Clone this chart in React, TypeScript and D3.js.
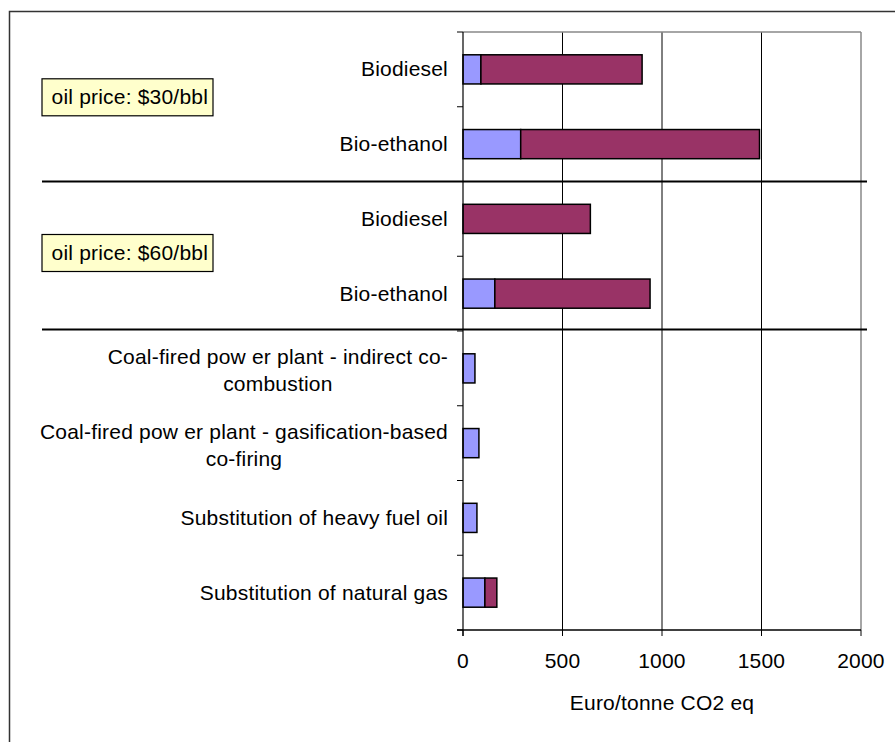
import React from "react";
import * as d3 from "d3";

// Category labels (wrapped lines), top to bottom
const categoryLines: string[][] = [
  ["Biodiesel"],
  ["Bio-ethanol"],
  ["Biodiesel"],
  ["Bio-ethanol"],
  ["Coal-fired pow er plant - indirect co-", "combustion"],
  ["Coal-fired pow er plant - gasification-based", "co-firing"],
  ["Substitution of heavy fuel oil"],
  ["Substitution of natural gas"],
];

// Stacked series values (Euro/tonne CO2 eq)
const seriesLower = [90, 290, 0, 160, 60, 80, 70, 110];
const seriesUpper = [810, 1200, 640, 780, 0, 0, 0, 60];
const seriesColors = ["#9999FF", "#993366"];

const xTicks = [0, 500, 1000, 1500, 2000];
const xTitle = "Euro/tonne CO2 eq";

const priceNotes = ["oil price: $30/bbl", "oil price: $60/bbl"];
// Group boundaries (category index after which a separator is drawn)
const groupBreaks = [2, 4];

const W = 895;
const H = 742;
const plot = { left: 463, right: 861, top: 32, bottom: 630 };
const FONT = "'Liberation Sans', Arial, Helvetica, sans-serif";
const FS = 21;
const LS = 0.2;

function textWidth(s: string): number {
  const c = document.createElement("canvas").getContext("2d");
  if (!c) return s.length * FS * 0.5;
  c.font = `${FS}px ${FONT}`;
  return c.measureText(s).width + LS * s.length;
}

export default function App() {
  const idx = categoryLines.map((_, i) => i);
  const x = d3.scaleLinear().domain([0, 2000]).range([plot.left, plot.right]);
  const y = d3
    .scaleBand<number>()
    .domain(idx)
    .range([plot.top, plot.bottom])
    .padding(0);
  const step = y.step();
  const barH = step * 0.39;

  const rows = idx.map((i) => ({ i, a: seriesLower[i], b: seriesUpper[i] }));
  const stacked = d3.stack<any>().keys(["a", "b"])(rows);

  const labelRight = 448;

  return (
    <svg
      width={W}
      height={H}
      style={{ position: "absolute", left: 0, top: 0, background: "#fff" }}
      fontFamily={FONT}
    >
      {/* outer frame */}
      <rect x={9.5} y={11.5} width={W + 20} height={H + 20} fill="#fff" stroke="#333" strokeWidth={1.5} />

      {/* gridlines */}
      {xTicks.slice(1, -1).map((t) => (
        <line key={t} x1={x(t)} x2={x(t)} y1={plot.top} y2={plot.bottom} stroke="#000" strokeWidth={1} />
      ))}
      {/* plot area border */}
      <line x1={plot.left} x2={plot.right} y1={plot.top} y2={plot.top} stroke="#888" strokeWidth={1.5} />
      <line x1={plot.right} x2={plot.right} y1={plot.top} y2={plot.bottom} stroke="#888" strokeWidth={1.5} />

      {/* bars */}
      {stacked.map((layer, k) =>
        layer.map((d, j) => {
          const w = x(d[1]) - x(d[0]);
          if (w <= 0) return null;
          const cy = (y(j) as number) + step / 2;
          return (
            <rect
              key={`${k}-${j}`}
              x={x(d[0])}
              y={cy - barH / 2}
              width={w}
              height={barH}
              fill={seriesColors[k]}
              stroke="#000"
              strokeWidth={1.5}
            />
          );
        })
      )}

      {/* y axis */}
      <line x1={plot.left} x2={plot.left} y1={plot.top} y2={plot.bottom + 6} stroke="#000" strokeWidth={1.2} />
      {d3.range(categoryLines.length + 1).map((k) => {
        const yy = plot.top + k * step;
        return <line key={k} x1={plot.left - 6} x2={plot.left} y1={yy} y2={yy} stroke="#000" strokeWidth={1} />;
      })}

      {/* x axis */}
      <line x1={plot.left - 6} x2={plot.right} y1={plot.bottom} y2={plot.bottom} stroke="#000" strokeWidth={1.5} />
      {xTicks.map((t) => (
        <g key={t}>
          <line x1={x(t)} x2={x(t)} y1={plot.bottom} y2={plot.bottom + 6} stroke="#000" strokeWidth={1} />
          <text x={x(t)} y={plot.bottom + 38} textAnchor="middle" fontSize={FS} letterSpacing={LS}>
            {t}
          </text>
        </g>
      ))}
      <text x={x(1000)} y={plot.bottom + 80} textAnchor="middle" fontSize={FS} letterSpacing={LS}>
        {xTitle}
      </text>

      {/* category labels */}
      {categoryLines.map((lines, i) => {
        const cy = (y(i) as number) + step / 2;
        if (lines.length === 1) {
          return (
            <text key={i} x={labelRight} y={cy + 7} textAnchor="end" fontSize={FS} letterSpacing={LS}>
              {lines[0]}
            </text>
          );
        }
        const maxW = Math.max(...lines.map(textWidth));
        const cx = labelRight - maxW / 2;
        const lh = 27;
        const base = cy + 9 - (lh * (lines.length - 1)) / 2;
        return (
          <g key={i}>
            {lines.map((l, k) => (
              <text key={k} x={cx} y={base + k * lh} textAnchor="middle" fontSize={FS} letterSpacing={LS}>
                {l}
              </text>
            ))}
          </g>
        );
      })}

      {/* group separators */}
      {groupBreaks.map((b) => {
        const yy = plot.top + b * step - (b === 4 ? 1.5 : 0);
        return <line key={b} x1={42} x2={867} y1={yy} y2={yy} stroke="#000" strokeWidth={1.8} />;
      })}

      {/* price notes */}
      {priceNotes.map((n, k) => {
        const cy = k === 0 ? 97.3 : 253;
        return (
          <g key={n}>
            <rect x={42} y={cy - 18.5} width={171} height={37} fill="#FFFFCC" stroke="#000" strokeWidth={1.2} />
            <text x={51.5} y={cy + 7} fontSize={FS} letterSpacing={LS}>
              {n}
            </text>
          </g>
        );
      })}
    </svg>
  );
}
